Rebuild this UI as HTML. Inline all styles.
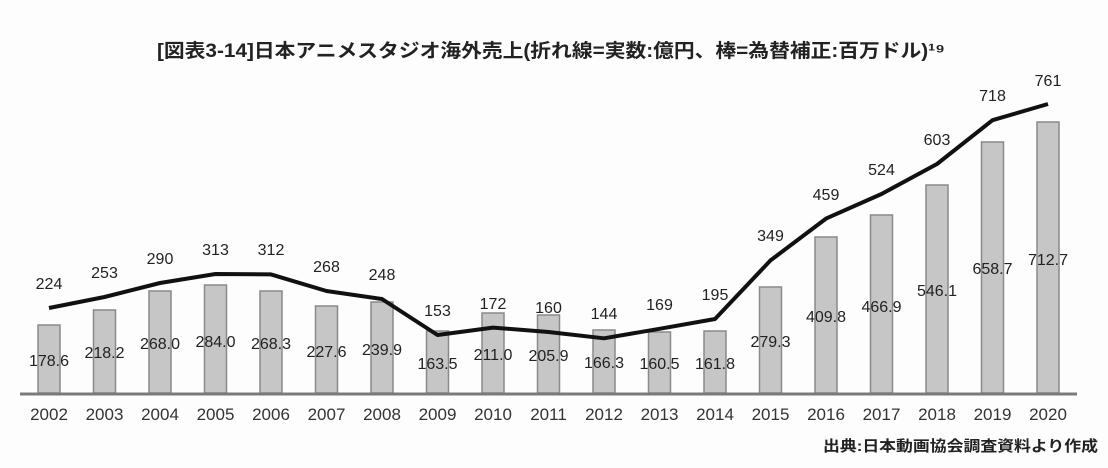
<!DOCTYPE html>
<html><head><meta charset="utf-8"><style>
html,body{margin:0;padding:0;background:#fff;}
svg{display:block;}
text{font-family:"Liberation Sans","Noto Sans CJK JP",sans-serif;fill:#222;}
.bl{font-size:16px;text-anchor:middle;}
.ll{font-size:16px;text-anchor:middle;}
.yr{font-size:17px;text-anchor:middle;fill:#333;}
</style></head><body>
<svg width="1108" height="468" viewBox="0 0 1108 468">
<rect width="1108" height="468" fill="#fdfdfd"/>
<text x="157" y="57" font-size="19" font-weight="bold" textLength="788" lengthAdjust="spacingAndGlyphs" style="font-family:'Liberation Sans','Noto Sans CJK JP',sans-serif">[図表3-14]日本アニメスタジオ海外売上(折れ線=実数:億円、棒=為替補正:百万ドル)¹⁹</text>
<g fill="#c6c6c6" stroke="#8a8a8a" stroke-width="1.5">
<rect x="38" y="325" width="22" height="68"/>
<rect x="93.5" y="310" width="22" height="83"/>
<rect x="149" y="291" width="22" height="102"/>
<rect x="204.5" y="285" width="22" height="108"/>
<rect x="260" y="291" width="22" height="102"/>
<rect x="315.5" y="306" width="22" height="87"/>
<rect x="371" y="302" width="22" height="91"/>
<rect x="426.5" y="331" width="22" height="62"/>
<rect x="482" y="313" width="22" height="80"/>
<rect x="537.5" y="315" width="22" height="78"/>
<rect x="593" y="330" width="22" height="63"/>
<rect x="648.5" y="332" width="22" height="61"/>
<rect x="704" y="331" width="22" height="62"/>
<rect x="759.5" y="287" width="22" height="106"/>
<rect x="815" y="237" width="22" height="156"/>
<rect x="870.5" y="215" width="22" height="178"/>
<rect x="926" y="185" width="22" height="208"/>
<rect x="981.5" y="142" width="22" height="251"/>
<rect x="1037" y="122" width="22" height="271"/>
</g>
<line x1="20" y1="394" x2="1077" y2="394" stroke="#7a7a7a" stroke-width="3"/>
<polyline fill="none" stroke="#111" stroke-width="4" stroke-linejoin="round" points="49,308 104.5,297 160,283 215.5,274 271,274.4 326.5,291 382,299 437.5,335 493,327.6 548.5,332 604,338.3 659.5,328.8 715,319 770.5,260.4 826,218.6 881.5,194 937,164 992.5,120.2 1048,104"/>
<g class="bl">
<text class="bl" x="49" y="366">178.6</text>
<text class="bl" x="104.5" y="358">218.2</text>
<text class="bl" x="160" y="349">268.0</text>
<text class="bl" x="215.5" y="347">284.0</text>
<text class="bl" x="271" y="349">268.3</text>
<text class="bl" x="326.5" y="357">227.6</text>
<text class="bl" x="382" y="355">239.9</text>
<text class="bl" x="437.5" y="369">163.5</text>
<text class="bl" x="493" y="360">211.0</text>
<text class="bl" x="548.5" y="361">205.9</text>
<text class="bl" x="604" y="368">166.3</text>
<text class="bl" x="659.5" y="369">160.5</text>
<text class="bl" x="715" y="369">161.8</text>
<text class="bl" x="770.5" y="347">279.3</text>
<text class="bl" x="826" y="322">409.8</text>
<text class="bl" x="881.5" y="312">466.9</text>
<text class="bl" x="937" y="296">546.1</text>
<text class="bl" x="992.5" y="274">658.7</text>
<text class="bl" x="1048" y="265">712.7</text>
</g>
<g>
<text class="ll" x="49" y="289">224</text>
<text class="ll" x="104.5" y="278">253</text>
<text class="ll" x="160" y="264">290</text>
<text class="ll" x="215.5" y="255">313</text>
<text class="ll" x="271" y="255">312</text>
<text class="ll" x="326.5" y="272">268</text>
<text class="ll" x="382" y="280">248</text>
<text class="ll" x="437.5" y="316">153</text>
<text class="ll" x="493" y="309">172</text>
<text class="ll" x="548.5" y="313">160</text>
<text class="ll" x="604" y="319">144</text>
<text class="ll" x="659.5" y="310">169</text>
<text class="ll" x="715" y="300">195</text>
<text class="ll" x="770.5" y="241">349</text>
<text class="ll" x="826" y="200">459</text>
<text class="ll" x="881.5" y="175">524</text>
<text class="ll" x="937" y="145">603</text>
<text class="ll" x="992.5" y="101">718</text>
<text class="ll" x="1048" y="86">761</text>
</g>
<g>
<text class="yr" x="49" y="420">2002</text>
<text class="yr" x="104.5" y="420">2003</text>
<text class="yr" x="160" y="420">2004</text>
<text class="yr" x="215.5" y="420">2005</text>
<text class="yr" x="271" y="420">2006</text>
<text class="yr" x="326.5" y="420">2007</text>
<text class="yr" x="382" y="420">2008</text>
<text class="yr" x="437.5" y="420">2009</text>
<text class="yr" x="493" y="420">2010</text>
<text class="yr" x="548.5" y="420">2011</text>
<text class="yr" x="604" y="420">2012</text>
<text class="yr" x="659.5" y="420">2013</text>
<text class="yr" x="715" y="420">2014</text>
<text class="yr" x="770.5" y="420">2015</text>
<text class="yr" x="826" y="420">2016</text>
<text class="yr" x="881.5" y="420">2017</text>
<text class="yr" x="937" y="420">2018</text>
<text class="yr" x="992.5" y="420">2019</text>
<text class="yr" x="1048" y="420">2020</text>
</g>
<text x="823" y="451" font-size="15" font-weight="bold" textLength="275" lengthAdjust="spacingAndGlyphs">出典:日本動画協会調査資料より作成</text>
</svg>
</body></html>
